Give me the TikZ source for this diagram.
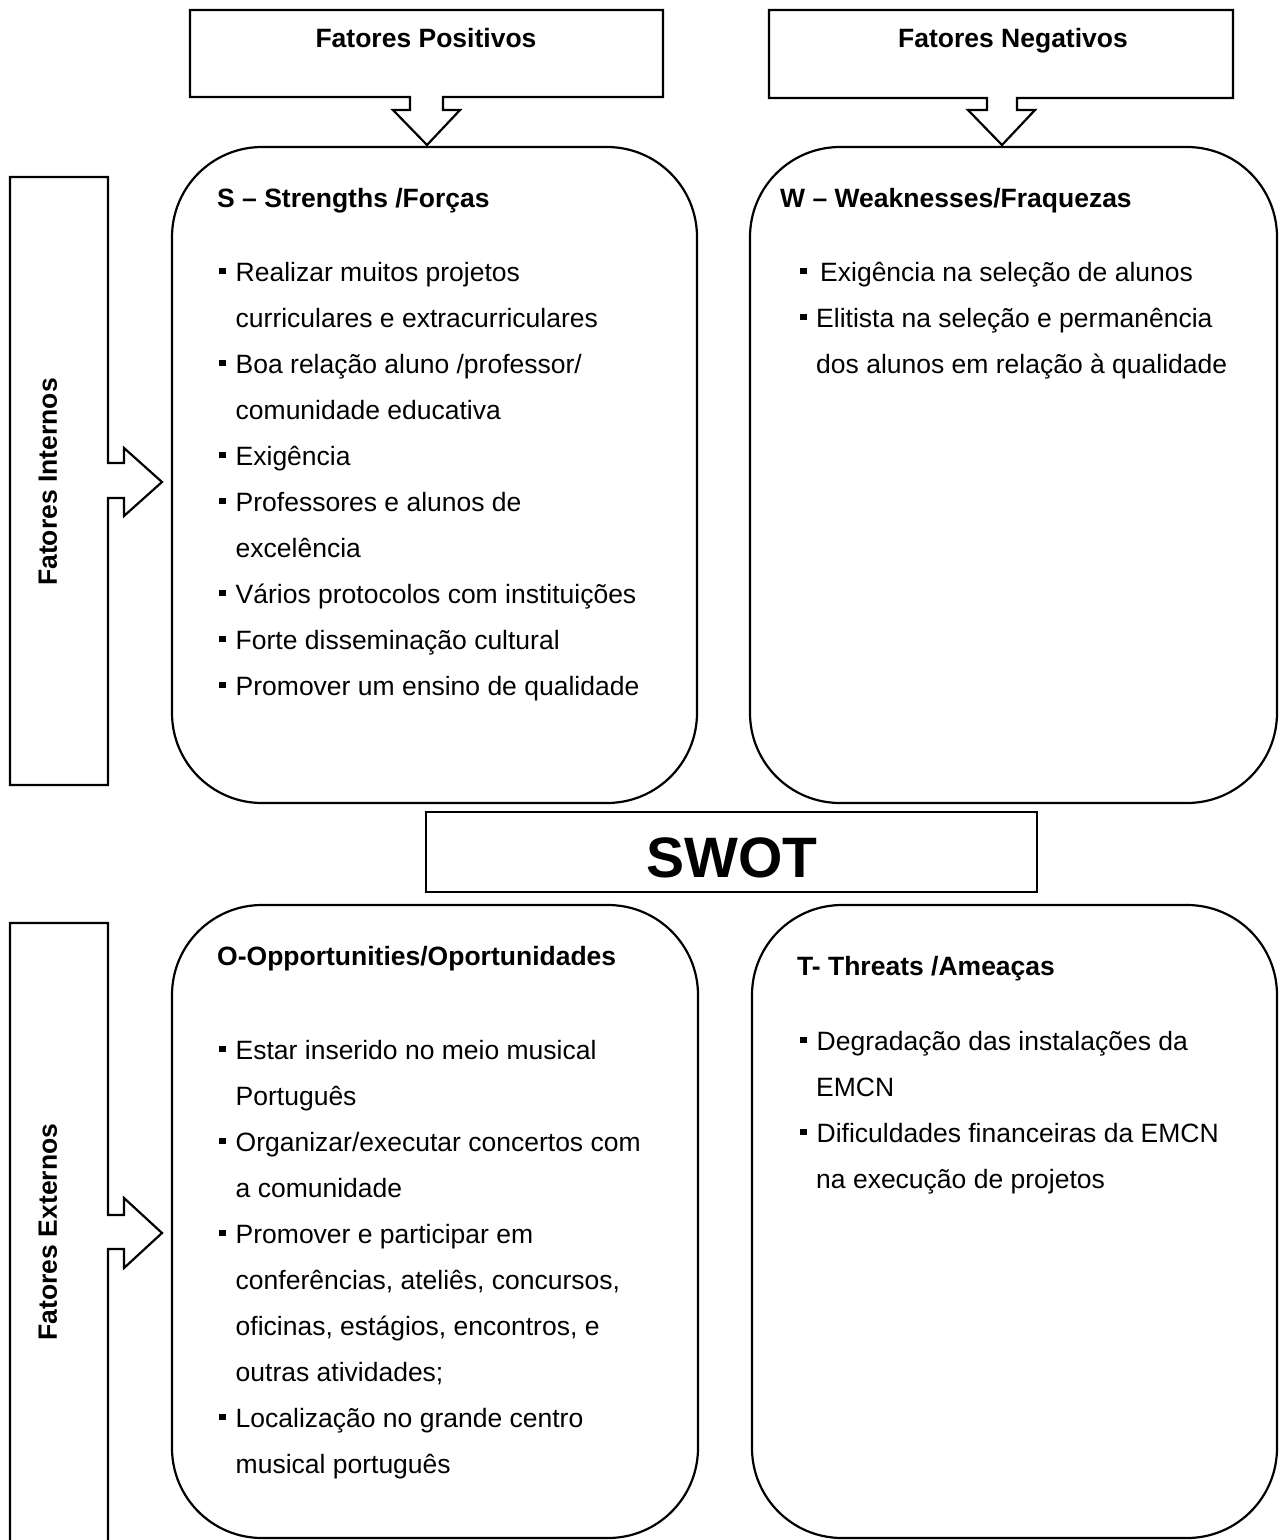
\documentclass[tikz,border=0pt]{standalone}
\usepackage{fontspec}
\setmainfont{Liberation Sans}
\newcommand{\bl}{\rule[7pt]{6.5pt}{6.5pt}\hspace{10pt}}
\begin{document}
\begin{tikzpicture}[x=1pt,y=-1pt,
  txt/.style={anchor=base west, inner sep=0pt, font=\fontsize{26.5}{30}\selectfont},
  hd/.style={anchor=base west, inner sep=0pt, font=\fontsize{26.5}{30}\selectfont\bfseries},
  frame/.style={draw=black, line width=2.2pt, line join=miter},
  rbox/.style={draw=black, line width=2.2pt, rounded corners=90pt, inner sep=0pt}]
\useasboundingbox (0,0) rectangle (1282,1540);

% callout frames
\draw[frame] (190,10) -- (663,10) -- (663,97) -- (443,97) -- (443,110) -- (460,110) -- (427,145) -- (393,110) -- (410,110) -- (410,97) -- (190,97) -- cycle;
\draw[frame] (769,10) -- (1233,10) -- (1233,98) -- (1017,98) -- (1017,110) -- (1035,110) -- (1002,145) -- (968,110) -- (987,110) -- (987,98) -- (769,98) -- cycle;
\draw[frame] (10,177) -- (108,177) -- (108,463) -- (124,463) -- (124,448) -- (162,482) -- (124,516) -- (124,498) -- (108,498) -- (108,785) -- (10,785) -- cycle;
\draw[frame] (10,923) -- (108,923) -- (108,1215) -- (124,1215) -- (124,1198) -- (162,1233) -- (124,1268) -- (124,1249) -- (108,1249) -- (108,1560) -- (10,1560) -- cycle;

% SWOT quadrants
\node[rbox, minimum width=525, minimum height=656] (S) at (434.5,475) {};
\node[rbox, minimum width=527, minimum height=656] (W) at (1013.5,475) {};
\node[rbox, minimum width=526, minimum height=633] (O) at (435,1221.5) {};
\node[rbox, minimum width=525, minimum height=633] (T) at (1014.5,1221.5) {};
\node[frame, minimum width=611, minimum height=80, inner sep=0pt] (swot) at (731.5,852) {};
\node[inner sep=0pt, font=\fontsize{57}{60}\selectfont\bfseries] (swotl) at (732,858) {SWOT};

% header labels
\node[inner sep=0pt, anchor=base, font=\fontsize{26.5}{30}\selectfont\bfseries] (fp) at (426,47) {Fatores Positivos};
\node[inner sep=0pt, anchor=base, font=\fontsize{26.5}{30}\selectfont\bfseries] (fn) at (1013,47) {Fatores Negativos};
\node[inner sep=0pt, rotate=90, font=\fontsize{26.5}{30}\selectfont\bfseries] (fi) at (48,482) {Fatores Internos};
\node[inner sep=0pt, rotate=90, font=\fontsize{26.5}{30}\selectfont\bfseries] (fe) at (48,1232) {Fatores Externos};

% S
\node[hd] (sh) at (217,207) {S – Strengths /Forças};
\node[txt] (s1) at (219,281) {\bl Realizar muitos projetos};
\node[txt] (s2) at (235.5,327) {curriculares e extracurriculares};
\node[txt] (s3) at (219,373) {\bl Boa relação aluno /professor/};
\node[txt] (s4) at (235.5,419) {comunidade educativa};
\node[txt] (s5) at (219,465) {\bl Exigência};
\node[txt] (s6) at (219,511) {\bl Professores e alunos de};
\node[txt] (s7) at (235.5,557) {excelência};
\node[txt] (s8) at (219,603) {\bl Vários protocolos com instituições};
\node[txt] (s9) at (219,649) {\bl Forte disseminação cultural};
\node[txt] (s10) at (219,695) {\bl Promover um ensino de qualidade};

% W
\node[hd] (wh) at (780,207) {W – Weaknesses/Fraquezas};
\node[txt] (w1) at (800,281) {\rule[7pt]{6.5pt}{6.5pt}\hspace{13.5pt}Exigência na seleção de alunos};
\node[txt] (w2) at (800,327) {\rule[7pt]{6.5pt}{6.5pt}\hspace{9.5pt}Elitista na seleção e permanência};
\node[txt] (w3) at (816,373) {dos alunos em relação à qualidade};

% O
\node[hd] (oh) at (217,965) {O-Opportunities/Oportunidades};
\node[txt] (o1) at (219,1059) {\bl Estar inserido no meio musical};
\node[txt] (o2) at (235.5,1105) {Português};
\node[txt] (o3) at (219,1151) {\bl Organizar/executar concertos com};
\node[txt] (o4) at (235.5,1197) {a comunidade};
\node[txt] (o5) at (219,1243) {\bl Promover e participar em};
\node[txt] (o6) at (235.5,1289) {conferências, ateliês, concursos,};
\node[txt] (o7) at (235.5,1335) {oficinas, estágios, encontros, e};
\node[txt] (o8) at (235.5,1381) {outras atividades;};
\node[txt] (o9) at (219,1427) {\bl Localização no grande centro};
\node[txt] (o10) at (235.5,1473) {musical português};

% T
\node[hd] (th) at (797,975) {T- Threats /Ameaças};
\node[txt] (t1) at (800,1050) {\bl Degradação das instalações da};
\node[txt] (t2) at (816,1096) {EMCN};
\node[txt] (t3) at (800,1142) {\bl Dificuldades financeiras da EMCN};
\node[txt] (t4) at (816,1188) {na execução de projetos};
\end{tikzpicture}
\end{document}
